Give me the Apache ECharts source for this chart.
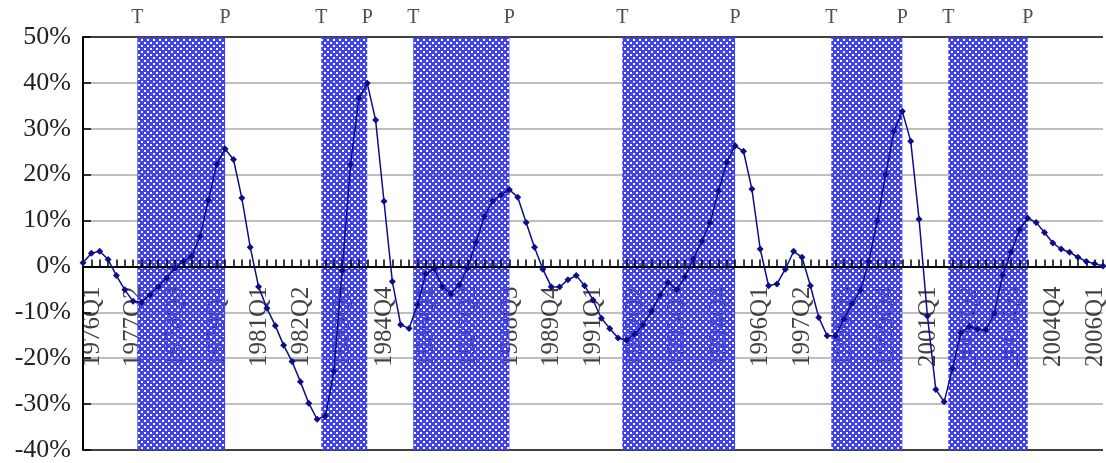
<!DOCTYPE html>
<html>
<head>
<meta charset="utf-8">
<script src="https://cdn.jsdelivr.net/npm/echarts@6/dist/echarts.min.js"></script>
<style>
  html, body { margin: 0; padding: 0; background: #fff; }
  #chart { width: 1106px; height: 463px; }
</style>
</head>
<body>
<div id="chart"></div>
<script>
// quarterly growth rate (%), 1976Q1 .. 2006Q3
const startYear = 1976
const values = [
    0.8, 2.9, 3.3, 1.5, -2.0, -5.1, -7.6, -7.8, -6.2, -4.4,
    -2.5, -0.4, 1.1, 2.2, 6.5, 14.5, 22.2, 25.6, 23.3, 14.9,
    4.2, -4.4, -9.1, -12.9, -17.2, -20.7, -25.1, -29.8, -33.3, -32.6,
    -22.9, -0.9, 22.2, 36.7, 39.9, 31.9, 14.2, -3.3, -12.7, -13.5,
    -8.4, -1.6, -0.5, -4.4, -6.0, -4.0, -0.4, 5.2, 10.9, 14.2,
    15.6, 16.7, 15.1, 9.6, 4.2, -0.6, -4.4, -4.5, -2.9, -2.0,
    -4.2, -7.3, -11.3, -13.5, -15.6, -16.1, -14.7, -12.7, -9.8, -6.2,
    -3.5, -5.1, -2.2, 1.6, 5.5, 9.5, 16.4, 22.7, 26.3, 25.1,
    16.9, 3.8, -4.2, -3.8, -0.6, 3.3, 2.0, -4.2, -11.1, -15.1,
    -15.1, -11.5, -8.1, -5.2, 1.1, 10.0, 20.0, 29.5, 33.8, 27.3,
    10.3, -10.8, -26.8, -29.5, -22.2, -14.5, -13.1, -13.7, -13.8, -10.2,
    -1.8, 3.1, 8.0, 10.5, 9.6, 7.4, 5.1, 3.8, 3.1, 2.0,
    1.1, 0.6, 0.1
]
// cycle turning points (T = trough, P = peak)
const troughs = ['1977Q3', '1983Q1', '1985Q4', '1992Q1', '1998Q2', '2001Q4']
const peaks = ['1980Q2', '1984Q3', '1988Q4', '1995Q3', '2000Q3', '2004Q2']
const labelEvery = 5

const quarters = values.map((v, i) => (startYear + Math.floor(i / 4)) + 'Q' + (i % 4 + 1))
const idx = q => quarters.indexOf(q)

// blue cross-hatch: opaque blue with see-through holes, so grid and labels show a bit
function hatch() {
    const c = document.createElement('canvas')
    c.width = 6
    c.height = 6
    const g = c.getContext('2d')
    g.fillStyle = '#4242ec'
    g.fillRect(0, 0, 6, 6)
    g.clearRect(0, 0, 2, 2)
    g.clearRect(3, 3, 2, 2)
    return c
}

const serif = '"Liberation Serif", "DejaVu Serif", serif'
const chart = echarts.init(document.getElementById('chart'))

const areas = troughs.map((t, k) => [{ xAxis: idx(t) + 0.5 }, { xAxis: idx(peaks[k]) }])
const marks = []
troughs.forEach((t, k) => {
    marks.push([idx(t) + 0.5, 50, 'T'])
    marks.push([idx(peaks[k]), 50, 'P'])
})
// quarter labels hang below the zero line
const tickLabels = quarters.map((q, i) => [i, 0, q]).filter(d => d[0] % labelEvery === 0)

chart.setOption({
    animation: false,
    grid: { left: 83, right: 3, top: 37, bottom: 13 },
    xAxis: {
        type: 'value',
        min: 0,
        max: values.length - 1,
        interval: 1,
        z: 3,
        axisLine: { onZero: true, lineStyle: { color: '#000', width: 2 } },
        axisTick: { show: true, inside: true, length: 7, lineStyle: { color: '#000', width: 1.5 } },
        axisLabel: { show: false },
        splitLine: { show: false }
    },
    yAxis: {
        type: 'value',
        min: -40,
        max: 50,
        interval: 10,
        z: 0,
        axisLine: { show: true, lineStyle: { color: '#000', width: 2 } },
        axisTick: { show: true, inside: true, length: 8, lineStyle: { color: '#000', width: 1.5 } },
        axisLabel: {
            margin: 12,
            color: '#222',
            fontFamily: serif,
            fontSize: 26,
            formatter: '{value}%'
        },
        splitLine: {
            show: true,
            lineStyle: {
                width: 1.5,
                color: ['#000', '#aaa', '#aaa', '#aaa', '#aaa', '#aaa', '#aaa', '#aaa', '#aaa', '#000']
            }
        }
    },
    series: [
        {
            name: 'quarters',
            type: 'scatter',
            z: 1,
            clip: false,
            symbolSize: 0,
            data: tickLabels,
            label: {
                show: true,
                position: [9, 20],
                rotate: 90,
                align: 'right',
                verticalAlign: 'middle',
                formatter: p => p.value[2],
                color: '#111',
                fontFamily: serif,
                fontSize: 25
            }
        },
        {
            name: 'cycles',
            type: 'scatter',
            z: 2,
            clip: false,
            symbolSize: 0,
            data: marks,
            label: {
                show: true,
                position: 'top',
                distance: 9,
                formatter: p => p.value[2],
                color: '#222',
                fontFamily: serif,
                fontSize: 20
            },
            markArea: {
                silent: true,
                z: 2,
                itemStyle: { color: { image: hatch(), repeat: 'repeat' } },
                data: areas
            }
        },
        {
            name: 'growth',
            type: 'line',
            z: 5,
            data: values.map((v, i) => [i, v]),
            symbol: 'diamond',
            symbolSize: 7,
            lineStyle: { color: '#0d0d8a', width: 1.5 },
            itemStyle: { color: '#0d0d8a' }
        }
    ]
})
</script>
</body>
</html>
